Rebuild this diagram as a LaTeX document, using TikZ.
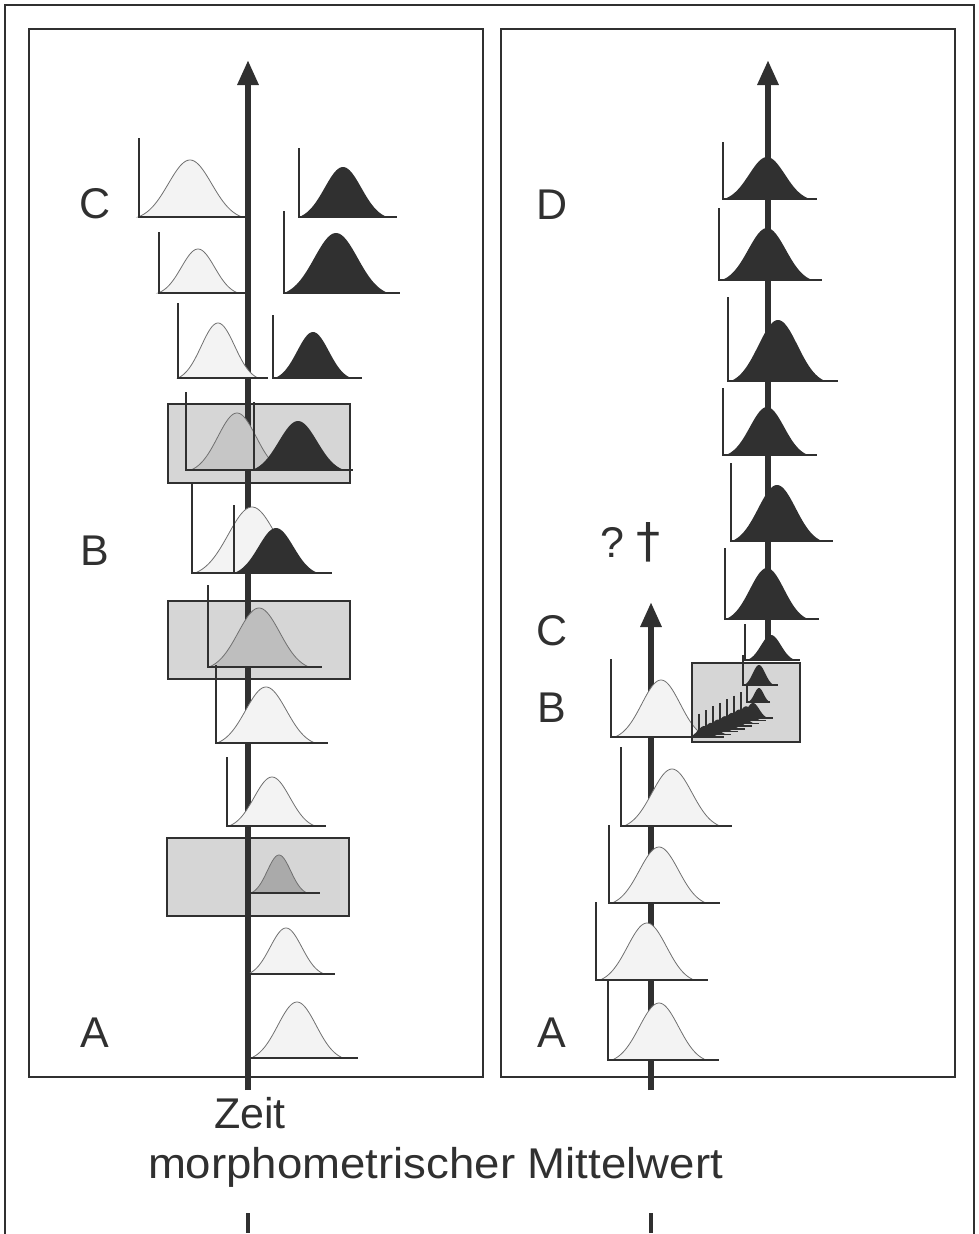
\documentclass[tikz,border=0pt]{standalone}
\usepackage{fontspec}
\setmainfont{Liberation Sans}
\newfontfamily\dagfont{DejaVu Sans}
\usetikzlibrary{arrows.meta}
\definecolor{ink}{HTML}{303030}
\definecolor{wfill}{HTML}{F3F3F3}
\definecolor{cline}{HTML}{707070}
\definecolor{boxfill}{HTML}{D6D6D6}
\definecolor{boxcurveA}{HTML}{C6C6C6}
\definecolor{boxcurveB}{HTML}{BEBEBE}
\definecolor{boxcurveC}{HTML}{AAAAAA}
\tikzset{
  frame/.style={draw=ink, line width=1.6pt},
  mainaxis/.style={draw=ink, line width=6pt, -{Triangle[width=20pt,length=25pt]}},
  laxis/.style={draw=ink, line width=1.4pt},
  wcurve/.style={fill=wfill, draw=cline, line width=0.8pt},
  dcurve/.style={fill=ink},
  gbox/.style={fill=boxfill, draw=ink, line width=2pt},
  lbl/.style={font=\fontsize{43}{48}\selectfont, text=ink, anchor=base, inner sep=0pt},
  tick/.style={draw=ink, line width=4pt}
}
% #1 axis x, #2 axis top y, #3 base y, #4 base end x, #5 mean x, #6 peak y, #7 half span, #8 style
\newcommand{\gdist}[8]{%
  \pgfmathsetmacro{\gdS}{#7/2.4}%
  \pgfmathsetmacro{\gdA}{#5-#7}\pgfmathsetmacro{\gdB}{#5+#7}%
  \pgfmathsetmacro{\gdE}{exp(-2.88)}%
  \path[#8] plot[domain=\gdA:\gdB, samples=60, smooth] (\x,{#3-(#3-#6)*(exp(-0.5*((\x-#5)/\gdS)*((\x-#5)/\gdS))-\gdE)/(1-\gdE)}) -- cycle;
  \draw[laxis] (#1,#2) |- (#4,#3);
}
\begin{document}
\begin{tikzpicture}[x=1pt,y=-1pt]
\useasboundingbox (0,0) rectangle (979,1234);
\clip (0,0) rectangle (979,1234);
% frames
\draw[frame] (5,5) rectangle (974,1260);
\draw[frame] (29,29) rectangle (483,1077);
\draw[frame] (501,29) rectangle (955,1077);

% ===== left panel =====
\node[gbox, minimum width=182pt, minimum height=79pt, inner sep=0pt] (boxA) at (259,443.5) {};
\node[gbox, minimum width=182pt, minimum height=78pt, inner sep=0pt] (boxB) at (259,640) {};
\node[gbox, minimum width=182pt, minimum height=78pt, inner sep=0pt] (boxC) at (258,877) {};

\coordinate (lbot) at (248,1090);
\coordinate (ltop) at (248,60);
\draw[mainaxis] (lbot) -- (ltop);

% white (left column)
\gdist{139}{138}{217}{247}{190}{160}{52}{wcurve}
\gdist{159}{232}{293}{245}{198}{249}{40}{wcurve}
\gdist{178}{303}{378}{268}{218}{323}{40}{wcurve}
% dark (right column)
\gdist{299}{148}{217}{397}{343}{167}{44}{dcurve}
\gdist{284}{211}{293}{400}{336}{233}{52}{dcurve}
\gdist{273}{315}{378}{362}{313}{332}{38}{dcurve}
% box A
\gdist{186}{392}{470}{353}{237}{413}{46}{fill=boxcurveA, draw=cline, line width=0.8pt}
\gdist{254}{402}{470}{353}{298}{421}{46}{dcurve}
% row B
\gdist{192}{483}{573}{332}{252}{507}{57}{wcurve}
\gdist{234}{505}{573}{332}{276}{528}{42}{dcurve}
% box B
\gdist{208}{585}{667}{322}{259}{608}{50}{fill=boxcurveB, draw=cline, line width=0.8pt}
% lower white
\gdist{216}{665}{743}{328}{266}{687}{49}{wcurve}
\gdist{227}{757}{826}{326}{272}{777}{43}{wcurve}
\gdist{246}{842}{893}{320}{279}{855}{28}{fill=boxcurveC, draw=cline, line width=0.8pt}
\gdist{246}{911}{974}{335}{286}{928}{38}{wcurve}
\gdist{250}{985}{1058}{358}{297}{1002}{46}{wcurve}

\node[lbl] (lC) at (95,218) {C};
\node[lbl] (lB) at (95,565) {B};
\node[lbl] (lA) at (95,1047) {A};

% ===== right panel =====
\node[gbox, minimum width=108pt, minimum height=79pt, inner sep=0pt] (boxR) at (746,702.5) {};

\coordinate (rbot) at (651,1090);
\coordinate (rtop) at (651,602);
\draw[mainaxis] (rbot) -- (rtop);
\coordinate (rubot) at (768,645);
\coordinate (rutop) at (768,60);
\draw[mainaxis] (rubot) -- (rutop);

% white distributions (lower axis)
\gdist{611}{659}{737}{698}{661}{680}{46}{wcurve}
\gdist{621}{747}{826}{732}{672}{769}{48}{wcurve}
\gdist{609}{825}{903}{720}{659}{847}{47}{wcurve}
\gdist{596}{902}{980}{708}{647}{923}{47}{wcurve}
\gdist{608}{981}{1060}{719}{659}{1003}{47}{wcurve}

% dark distributions (upper axis)
\gdist{723}{142}{199}{817}{767}{157}{43}{dcurve}
\gdist{719}{208}{280}{822}{767}{228}{45}{dcurve}
\gdist{728}{297}{381}{838}{778}{320}{47}{dcurve}
\gdist{723}{388}{455}{817}{767}{407}{41}{dcurve}
\gdist{731}{463}{541}{833}{777}{485}{45}{dcurve}
\gdist{725}{548}{619}{819}{767}{568}{41}{dcurve}
\gdist{745}{624}{660}{800}{771}{635}{24}{dcurve}
% small ones in box
\gdist{743}{655}{685}{778}{759}{665}{15}{dcurve}
\gdist{747}{686}{702}{770}{759}{688}{11}{dcurve}
\foreach \i in {7,6,...,0}{
  \pgfmathsetmacro{\px}{753-7*\i}
  \pgfmathsetmacro{\pb}{718+2.7*\i}
  \pgfmathsetmacro{\pp}{703+3.3*\i}
  \pgfmathsetmacro{\ax}{\px-12}
  \pgfmathsetmacro{\at}{692+3.6*\i}
  \pgfmathsetmacro{\be}{\px+20}
  \gdist{\ax}{\at}{\pb}{\be}{\px}{\pp}{15}{dcurve}
}

\node[lbl] (rD) at (552,219) {D};
\node[lbl] (rC) at (552,645) {C};
\node[lbl] (rB) at (552,722) {B};
\node[lbl] (rA) at (552,1047) {A};
\node[lbl] (qm) at (612,557) {?};
\node[lbl, font=\dagfont\fontsize{48}{52}\selectfont] (dag) at (648,557) {†};

% ===== bottom texts =====
\node[lbl] (zeit) at (250,1128) {Zeit};
\node[lbl] (mw) at (435.5,1178) {\scalebox{1.06}[1]{morphometrischer Mittelwert}};
\coordinate (t1a) at (248,1213); \coordinate (t1b) at (248,1233);
\coordinate (t2a) at (651,1213); \coordinate (t2b) at (651,1233);
\draw[tick] (t1a) -- (t1b);
\draw[tick] (t2a) -- (t2b);
\end{tikzpicture}
\end{document}
